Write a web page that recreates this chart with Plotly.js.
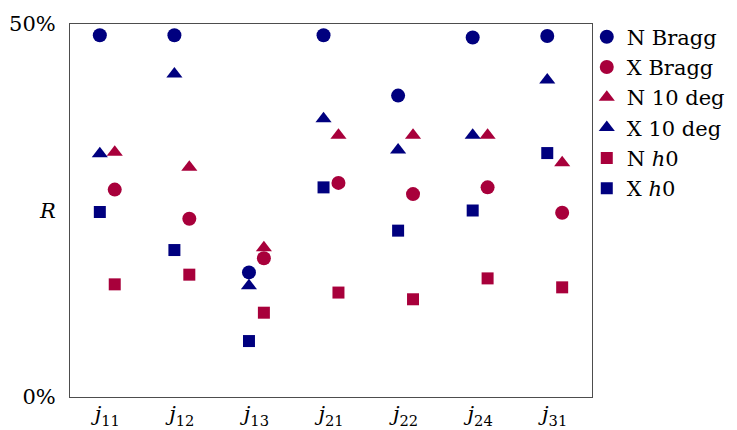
<!DOCTYPE html>
<html>
<head>
<meta charset="utf-8">
<script src="https://cdn.plot.ly/plotly-3.0.1.min.js"></script>
<style>html,body{margin:0;padding:0;background:#fff;}#chart{width:737px;height:430px;}</style>
</head>
<body>
<div id="chart"></div>
<script>
const categories = ['j11', 'j12', 'j13', 'j21', 'j22', 'j24', 'j31'];
const categoryLabels = ['<i>j</i><sub>11</sub>', '<i>j</i><sub>12</sub>', '<i>j</i><sub>13</sub>', '<i>j</i><sub>21</sub>', '<i>j</i><sub>22</sub>', '<i>j</i><sub>24</sub>', '<i>j</i><sub>31</sub>'];

const nBragg = [48.5, 48.5, 16.7, 48.5, 40.4, 48.2, 48.4];
const xBragg = [27.8, 23.9, 18.6, 28.7, 27.2, 28.1, 24.7];
const n10deg = [32.8, 30.8, 20.0, 35.1, 35.1, 35.1, 31.4];
const x10deg = [32.6, 43.3, 14.9, 37.3, 33.1, 35.1, 42.5];
const nH0 = [15.1, 16.4, 11.3, 14.0, 13.1, 15.9, 14.7];
const xH0 = [24.8, 19.7, 7.5, 28.1, 22.3, 25.0, 32.7];

const yTickVals = [0, 25, 50];
const yTickText = ['0%', '<i>R</i>', '50%'];

const NAVY = '#00007f';
const CRIMSON = '#a8003b';
const FONT = '"DejaVu Serif", "Liberation Serif", serif';

function tr(name, y, color, symbol, size, group) {
  return {
    type: 'scatter', mode: 'markers', name: name,
    x: categories, y: y, offsetgroup: group,
    marker: {color: color, symbol: symbol, size: size, line: {width: 0}},
    hoverinfo: 'skip'
  };
}

const data = [
  tr('N Bragg', nBragg, NAVY, 'circle', 14, 'a'),
  tr('X Bragg', xBragg, CRIMSON, 'circle', 14, 'b'),
  tr('N 10 deg', n10deg, CRIMSON, 'triangle-up', 14, 'b'),
  tr('X 10 deg', x10deg, NAVY, 'triangle-up', 14, 'a'),
  tr('N <i>h</i>0', nH0, CRIMSON, 'square', 12, 'b'),
  tr('X <i>h</i>0', xH0, NAVY, 'square', 12, 'a')
];

const layout = {
  width: 737, height: 430,
  margin: {l: 70, r: 145, t: 24, b: 33, pad: 0, autoexpand: false},
  paper_bgcolor: '#fff', plot_bgcolor: '#fff',
  font: {family: FONT, size: 21, color: '#000'},
  scattermode: 'group',
  scattergap: 0.6,
  showlegend: true,
  legend: {
    x: 0.99, xanchor: 'left', y: 1.02, yanchor: 'top',
    font: {family: FONT, size: 21, color: '#000'},
    bgcolor: 'rgba(0,0,0,0)', borderwidth: 0,
    tracegroupgap: 0, itemsizing: 'trace'
  },
  xaxis: {
    type: 'category',
    tickmode: 'array', tickvals: categories, ticktext: categoryLabels,
    range: [-0.5, 6.5],
    showgrid: false, zeroline: false,
    showline: true, mirror: true, linecolor: '#4d4d4d', linewidth: 1,
    ticks: '', ticklabelstandoff: -2,
    tickfont: {family: FONT, size: 21, color: '#000'}
  },
  yaxis: {
    range: [0, 50],
    tickmode: 'array', tickvals: yTickVals, ticktext: yTickText,
    showgrid: false, zeroline: false,
    showline: true, mirror: true, linecolor: '#4d4d4d', linewidth: 1,
    ticks: '', ticklabelstandoff: 9,
    tickfont: {family: FONT, size: 21, color: '#000'}
  }
};

Plotly.newPlot('chart', data, layout, {staticPlot: true, displayModeBar: false});
</script>
</body>
</html>
